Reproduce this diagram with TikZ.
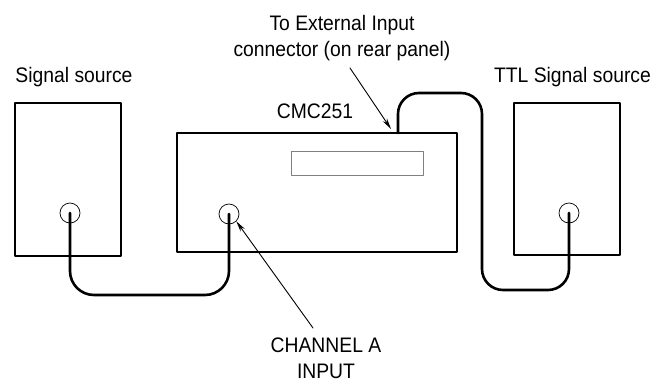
\documentclass[tikz,border=0pt]{standalone}
\usepackage{fontspec}
\setmainfont{Liberation Sans}[FakeStretch=0.92]
\usetikzlibrary{arrows.meta}
\begin{document}
\begin{tikzpicture}[>={Stealth[length=11pt,width=5pt]}, x=1pt, y=-1pt, line join=round, line cap=round,
	unit/.style={draw, line width=1.6pt, inner sep=0pt},
	jack/.style={draw, circle, line width=0.7pt, minimum size=20pt, inner sep=0pt},
	cable/.style={line width=2.6pt, rounded corners=24pt},
	pointer/.style={->, line width=0.9pt},
	lbl/.style={font=\fontsize{21}{25.5}\selectfont, inner sep=0pt, align=center}]
	\useasboundingbox (0,0) rectangle (656,383);
	% Geraete
	\node[unit, minimum width=106pt, minimum height=153pt] (src) at (68,179.5) {};
	\node[unit, minimum width=280pt, minimum height=119pt] (cmc) at (317,192.5) {};
	\node[unit, minimum width=106pt, minimum height=152pt] (ttl) at (567,179) {};
	\node[draw=gray, line width=0.8pt, minimum width=132pt, minimum height=24pt, inner sep=0pt] (disp) at (357,163) {};
	% Buchsen
	\node[jack] (srcjack) at (70,213) {};
	\node[jack] (chjack) at (229,214) {};
	\node[jack] (ttljack) at (569,213) {};
	\coordinate (extin) at (398,133);
	\coordinate (lowrun) at (0,295);
	% Beschriftung
	\node[lbl, anchor=base] (srclbl) at (74,82) {Signal source};
	\node[lbl, anchor=base] (ttllbl) at (572.5,82) {TTL Signal source};
	\node[lbl, anchor=base] (cmclbl) at (315,118) {CMC251};
	\node[lbl] (extlbl) at (342,38) {To External Input\\connector (on rear panel)};
	\node[lbl] (chlbl) at (326,358.5) {CHANNEL A\\INPUT};
	\coordinate (exttail) at (350,68);
	\coordinate (chtail) at (313,328);
	% Kabel
	\draw[cable] (srcjack.center) -- (srcjack |- lowrun) -- (chjack |- lowrun) -- (chjack.center);
	\draw[cable, rounded corners=21pt] (extin) |- (482,93) -- (482,290) -| (ttljack.center);
	% Pfeile
	\draw[pointer] (exttail) -- ([shift={(-7,-4)}]extin);
	\draw[pointer] (chtail) -- (chjack.south east);
\end{tikzpicture}
\end{document}
